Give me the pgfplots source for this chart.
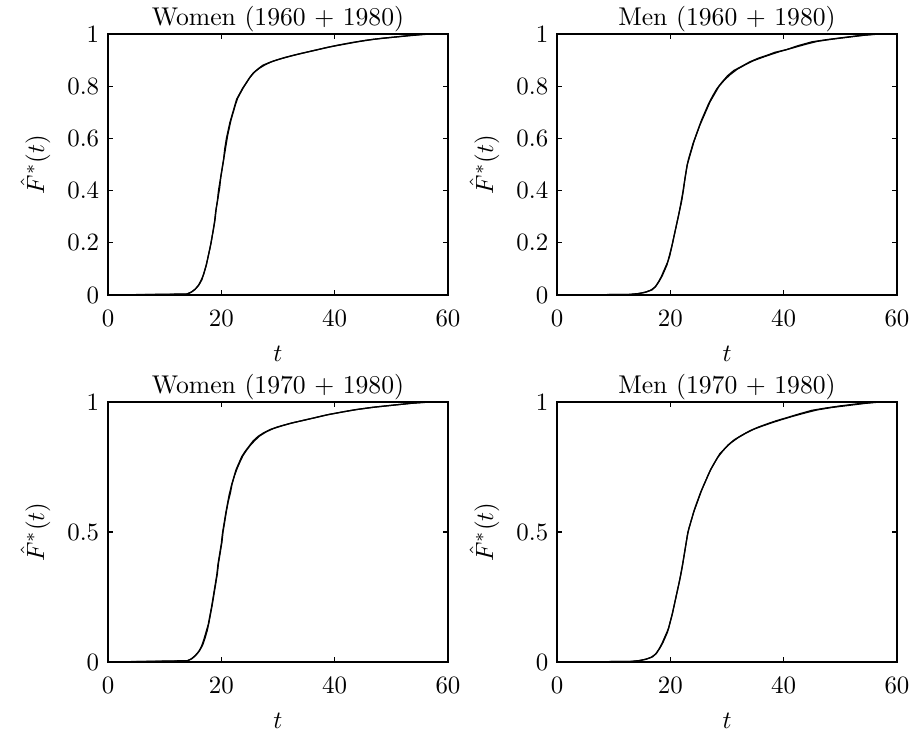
\documentclass[border=0pt]{standalone}
\usepackage{pgfplots}
\pgfplotsset{compat=1.18}
\usepackage{pgfplotstable}

% empirical distribution functions, two estimates per panel
\pgfplotstableread{
t F
0 0
13.8 0.003
14.6 0.01
15.3 0.02
15.9 0.035
16.4 0.055
16.9 0.08
17.3 0.11
17.6 0.14
17.9 0.17
18.2 0.20
18.5 0.24
18.8 0.28
19.0 0.32
19.3 0.36
19.5 0.40
19.8 0.44
20.1 0.48
20.4 0.52
20.6 0.56
20.9 0.60
21.2 0.63
21.5 0.66
21.9 0.69
22.3 0.72
22.7 0.75
23.2 0.77
23.7 0.79
24.3 0.81
24.9 0.83
25.6 0.85
26.4 0.865
27.3 0.88
28.4 0.89
29.7 0.90
31.2 0.91
33.0 0.92
35.0 0.93
37.0 0.94
39.0 0.95
41.5 0.96
44.0 0.97
47.0 0.98
50.5 0.988
53.5 0.995
56.5 1.0
60 1.0
}\womenAa
\pgfplotstableread{
t F
0 0
14.0 0.004
14.8 0.012
15.5 0.025
16.1 0.04
16.6 0.06
17.0 0.09
17.4 0.12
17.7 0.15
18.0 0.18
18.3 0.215
18.6 0.25
18.9 0.29
19.1 0.33
19.4 0.37
19.7 0.41
19.9 0.45
20.2 0.49
20.5 0.53
20.8 0.57
21.1 0.61
21.4 0.64
21.7 0.67
22.1 0.70
22.5 0.73
22.9 0.755
23.4 0.775
23.9 0.795
24.5 0.815
25.1 0.835
25.9 0.855
26.8 0.87
27.8 0.883
29.0 0.895
30.5 0.905
32.2 0.915
34.0 0.925
36.0 0.935
38.2 0.946
40.5 0.957
43.0 0.967
45.5 0.976
48.5 0.984
52.0 0.991
55.0 0.997
57.0 1.0
60 1.0
}\womenAb
\pgfplotstableread{
t F
0 0
12.5 0.002
14.2 0.005
15.5 0.01
16.5 0.018
17.3 0.03
17.9 0.05
18.4 0.07
18.8 0.09
19.2 0.11
19.6 0.13
19.9 0.15
20.2 0.18
20.5 0.21
20.8 0.24
21.1 0.27
21.4 0.30
21.7 0.33
22.0 0.36
22.3 0.40
22.6 0.45
22.9 0.49
23.2 0.52
23.6 0.55
24.0 0.58
24.5 0.61
25.0 0.64
25.5 0.67
26.1 0.70
26.7 0.73
27.4 0.76
28.2 0.79
29.1 0.815
30.1 0.84
31.2 0.86
32.5 0.875
34.0 0.893
35.5 0.907
37.0 0.918
38.5 0.93
40.5 0.94
42.5 0.955
45.0 0.97
47.5 0.978
50.0 0.985
53.0 0.993
56.5 1.0
60 1.0
}\menAa
\pgfplotstableread{
t F
0 0
13.0 0.002
14.6 0.006
15.8 0.012
16.8 0.02
17.5 0.035
18.1 0.055
18.6 0.075
19.0 0.095
19.4 0.115
19.7 0.14
20.0 0.165
20.3 0.19
20.6 0.22
20.9 0.25
21.2 0.28
21.5 0.31
21.8 0.345
22.1 0.38
22.4 0.42
22.7 0.46
23.0 0.50
23.4 0.53
23.8 0.56
24.2 0.59
24.7 0.62
25.2 0.65
25.8 0.68
26.4 0.71
27.0 0.74
27.8 0.77
28.6 0.80
29.6 0.825
30.6 0.845
31.8 0.865
33.2 0.882
34.7 0.898
36.2 0.91
37.8 0.922
39.5 0.934
41.5 0.946
43.8 0.96
46.0 0.972
48.5 0.98
51.5 0.988
54.5 0.996
57.0 1.0
60 1.0
}\menAb
\pgfplotstableread{
t F
0 0
13.9 0.004
14.7 0.012
15.4 0.025
16.0 0.04
16.5 0.06
16.9 0.085
17.3 0.115
17.7 0.145
18.0 0.18
18.3 0.215
18.6 0.255
18.9 0.295
19.2 0.335
19.4 0.375
19.7 0.415
20.0 0.455
20.2 0.495
20.5 0.535
20.8 0.575
21.1 0.61
21.4 0.645
21.8 0.68
22.2 0.71
22.6 0.74
23.1 0.765
23.6 0.79
24.2 0.81
24.9 0.83
25.6 0.85
26.5 0.868
27.5 0.882
28.7 0.895
30.2 0.906
32.0 0.917
34.0 0.927
36.2 0.938
38.5 0.95
41.0 0.96
43.5 0.97
46.5 0.979
50.0 0.987
53.5 0.995
56.5 1.0
60 1.0
}\womenBa
\pgfplotstableread{
t F
0 0
14.1 0.005
14.9 0.014
15.6 0.028
16.2 0.045
16.7 0.065
17.1 0.09
17.5 0.12
17.8 0.15
18.1 0.185
18.4 0.22
18.7 0.26
19.0 0.30
19.3 0.34
19.5 0.38
19.8 0.42
20.1 0.46
20.3 0.50
20.6 0.54
20.9 0.58
21.2 0.615
21.6 0.65
21.9 0.685
22.3 0.715
22.8 0.745
23.3 0.77
23.8 0.793
24.4 0.813
25.1 0.833
25.9 0.852
26.8 0.87
27.9 0.885
29.2 0.898
30.8 0.909
32.6 0.92
34.6 0.93
36.8 0.941
39.2 0.953
41.7 0.963
44.2 0.972
47.3 0.981
50.8 0.989
54.0 0.996
57.0 1.0
60 1.0
}\womenBb
\pgfplotstableread{
t F
0 0
12.8 0.002
14.4 0.005
15.6 0.01
16.6 0.018
17.4 0.03
18.0 0.05
18.5 0.07
18.9 0.09
19.3 0.11
19.7 0.13
20.0 0.155
20.3 0.18
20.6 0.21
20.9 0.24
21.2 0.27
21.5 0.30
21.8 0.33
22.1 0.365
22.4 0.405
22.7 0.445
23.0 0.485
23.3 0.515
23.7 0.545
24.1 0.575
24.6 0.605
25.1 0.635
25.6 0.665
26.2 0.695
26.8 0.725
27.5 0.755
28.3 0.785
29.2 0.81
30.2 0.835
31.3 0.855
32.6 0.872
34.1 0.89
35.6 0.904
37.1 0.916
38.7 0.928
40.6 0.94
42.7 0.954
45.0 0.968
47.5 0.977
50.0 0.985
53.0 0.993
56.5 1.0
60 1.0
}\menBa
\pgfplotstableread{
t F
0 0
13.2 0.002
14.7 0.006
15.9 0.012
16.9 0.02
17.6 0.035
18.2 0.055
18.7 0.075
19.1 0.095
19.5 0.115
19.8 0.14
20.1 0.165
20.4 0.19
20.7 0.22
21.0 0.25
21.3 0.28
21.6 0.31
21.9 0.345
22.2 0.38
22.5 0.42
22.8 0.46
23.1 0.50
23.5 0.53
23.9 0.56
24.3 0.59
24.8 0.62
25.3 0.65
25.9 0.68
26.5 0.71
27.1 0.74
27.9 0.77
28.7 0.80
29.7 0.823
30.7 0.843
31.9 0.862
33.3 0.88
34.8 0.896
36.3 0.908
37.9 0.92
39.6 0.932
41.6 0.945
43.8 0.958
46.0 0.97
48.5 0.979
51.5 0.987
54.5 0.995
57.0 1.0
60 1.0
}\menBb

\pgfplotsset{
  panel/.style={
    scale only axis, width=136bp,
    xmin=0, xmax=60, ymin=0, ymax=1,
    xtick={0,20,40,60},
    tick align=inside, major tick length=2bp,
    axis line style={line width=0.7bp},
    every tick/.style={black, line width=0.5bp},
    xlabel={$t$}, ylabel={$\hat{F}^{*}(t)$},
    font=\fontsize{10.3}{12.4}\selectfont,
    title style={yshift=-8.5bp},
    xticklabel style={yshift=-2.5bp},
    xlabel style={yshift=-1bp},
    anchor=south west,
  },
  cdf/.style={black, line width=0.5bp, no marks},
}

\begin{document}
\begin{tikzpicture}
  \begin{axis}[panel, at={(43.2bp,174bp)}, height=104.4bp,
      ytick={0,0.2,...,1}, title={Women (1960 + 1980)}]
    \addplot[cdf] table[x=t, y=F] {\womenAa};
    \addplot[cdf] table[x=t, y=F] {\womenAb};
  \end{axis}
  \begin{axis}[panel, at={(222.8bp,174bp)}, height=104.4bp,
      ytick={0,0.2,...,1}, title={Men (1960 + 1980)}]
    \addplot[cdf] table[x=t, y=F] {\menAa};
    \addplot[cdf] table[x=t, y=F] {\menAb};
  \end{axis}
  \begin{axis}[panel, at={(43.2bp,27.2bp)}, height=104bp,
      ytick={0,0.5,1}, title={Women (1970 + 1980)}]
    \addplot[cdf] table[x=t, y=F] {\womenBa};
    \addplot[cdf] table[x=t, y=F] {\womenBb};
  \end{axis}
  \begin{axis}[panel, at={(222.8bp,27.2bp)}, height=104bp,
      ytick={0,0.5,1}, title={Men (1970 + 1980)}]
    \addplot[cdf] table[x=t, y=F] {\menBa};
    \addplot[cdf] table[x=t, y=F] {\menBb};
  \end{axis}
  \pgfresetboundingbox
  \path[use as bounding box] (0,0) rectangle (365.6bp,292bp);
\end{tikzpicture}
\end{document}
